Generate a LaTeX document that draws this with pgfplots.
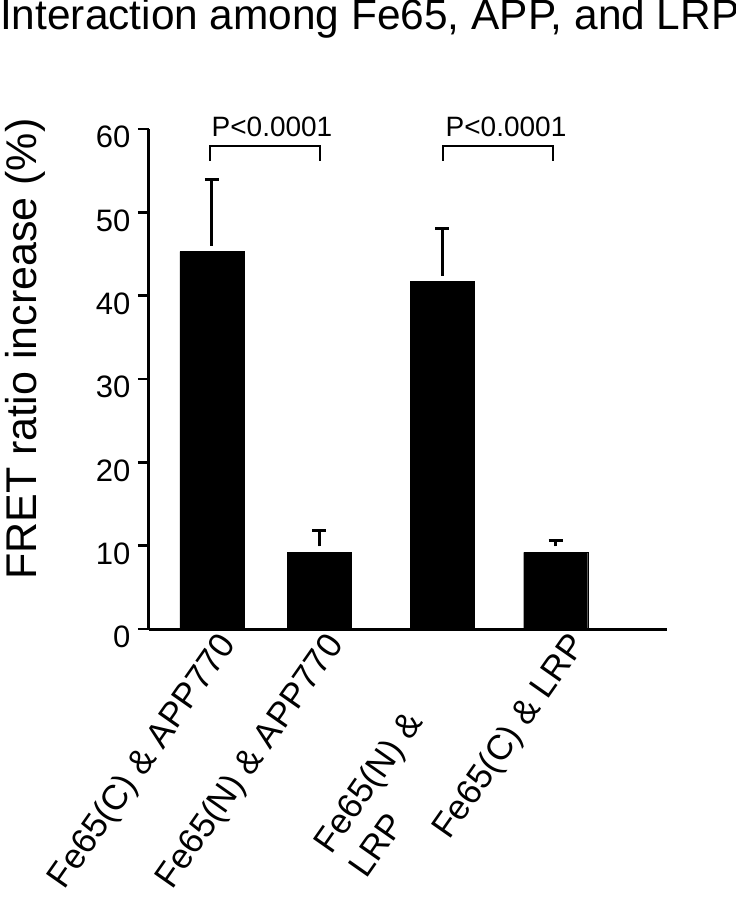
\documentclass[border=0pt]{standalone}
\usepackage{fontspec}
\setmainfont{Liberation Sans}
\usepackage{pgfplots}
\pgfplotsset{compat=1.18}

\begin{document}
\begin{tikzpicture}
% fixed page: 736 x 900 (1px = 1pt), axis box lower-left at (0,0)
\path[use as bounding box] (-149pt,-271pt) rectangle (587pt,629pt);

\begin{axis}[
    scale only axis,
    width=518pt, height=500pt,
    xmin=0, xmax=5.18,
    ymin=0, ymax=60,
    clip=false,
    axis lines*=left,
    axis line style={line width=3pt},
    ybar, bar width=0.64,
    ytick={0,10,...,60},
    tick align=outside,
    major tick length=11pt,
    ytick style={line width=2.5pt, black},
    xtick style={draw=none},
    /pgf/number format/assume math mode=true,
    yticklabel style={font=\fontsize{31}{33}\selectfont, yshift=-8pt, xshift=-4pt},
    xtick={0.63,1.705,4.13},
    xticklabels={Fe65(C) \& APP770, Fe65(N) \& APP770, Fe65(C) \& LRP},
    every x tick label/.style={font=\fontsize{35}{43}\selectfont, inner sep=0pt,
        xshift=4pt, yshift=10pt, rotate=55, anchor=north east},
    extra x ticks={2.93},
    extra x tick labels={{Fe65(N) \&\\LRP}},
    extra x tick style={
        every x tick label/.style={font=\fontsize{35}{43}\selectfont, inner sep=0pt,
            align=left, xshift=-39pt, yshift=-68pt, rotate=55, anchor=north east}},
    ylabel={FRET ratio increase (\%)},
    ylabel style={font=\fontsize{43}{45}\selectfont,
        at={(axis description cs:-0.239,0.56)}, anchor=center},
]

\addplot[fill=black, draw=black,
    error bars/.cd, y dir=plus, y explicit,
    error bar style={line width=3pt, black, shorten <=6pt},
    error mark options={rotate=90, line width=3pt, mark size=7pt, black}]
coordinates {
    (0.63,45.3)  +- (0,8.6)
    (1.705,9.2)  +- (0,2.6)
    (2.93,41.7)  +- (0,6.4)
    (4.067,9.2)  +- (0,1.4)
};

% significance brackets
\draw[line width=2.5pt] (axis cs:0.61,56.2) -- (axis cs:0.61,57.95)
    -- (axis cs:1.71,57.95) -- (axis cs:1.71,56.2);
\draw[line width=2.5pt] (axis cs:2.94,56.2) -- (axis cs:2.94,57.95)
    -- (axis cs:4.04,57.95) -- (axis cs:4.04,56.2);
\node[font=\fontsize{28}{30}\selectfont, anchor=base, inner sep=0pt]
    at (axis cs:1.23,59.07) {P<0.0001};
\node[font=\fontsize{28}{30}\selectfont, anchor=base, inner sep=0pt]
    at (axis cs:3.57,59.07) {P<0.0001};

\end{axis}

\node[anchor=base west, inner sep=0pt, font=\fontsize{42.4}{44}\selectfont]
    at (-149pt,599.7pt) {Interaction among Fe65, APP, and LRP};
\end{tikzpicture}
\end{document}
